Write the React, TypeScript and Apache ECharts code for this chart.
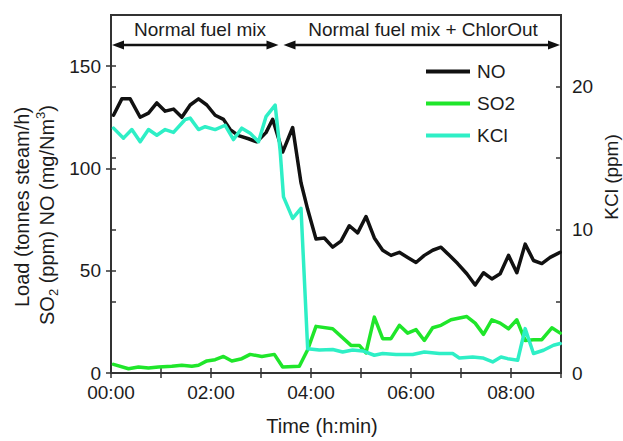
import React, { useEffect, useRef } from "react";
import * as echarts from "echarts";

// ---- data (minutes since 00:00, value) ----
const NO_SERIES: [number, number][] = [
  [3, 126], [13, 134], [23, 134], [35, 125], [45, 127], [55, 132], [65, 128], [75, 129],
  [85, 125], [95, 131], [105, 134], [115, 131], [125, 126], [135, 124], [143, 119],
  [153, 116], [165, 114.5], [175, 113], [186, 117.5], [194, 124], [206, 108], [218, 120],
  [228, 93], [236, 80], [246, 65.5], [256, 66], [266, 61.5], [276, 64.5], [286, 72],
  [296, 68.5], [306, 76.5], [316, 66], [326, 60], [336, 57.5], [346, 59], [356, 56.5],
  [366, 54], [376, 57.5], [386, 60], [396, 61.5], [406, 57.5], [416, 53.5], [427, 48.5],
  [437, 43], [447, 49], [457, 46], [467, 48.5], [477, 57.5], [487, 49], [497, 63],
  [507, 55], [517, 53.5], [527, 56.5], [539, 59],
];

const SO2_SERIES: [number, number][] = [
  [3, 4.2], [21, 2.1], [33, 2.9], [45, 2.4], [57, 2.9], [73, 3.3], [85, 3.8], [97, 3.3],
  [105, 3.8], [115, 5.9], [125, 6.5], [135, 8.1], [145, 5.9], [157, 7], [167, 9.1],
  [181, 8.1], [196, 9.1], [206, 2.9], [226, 3.3], [236, 11.4], [246, 22.8], [266, 21.6],
  [288, 13.5], [298, 13.5], [306, 9.8], [316, 27.3], [326, 16.8], [336, 16.8], [346, 23.3],
  [356, 19.5], [366, 21.2], [376, 15.9], [386, 22.1], [396, 23.3], [408, 26], [427, 27.6],
  [437, 24.4], [447, 18.9], [457, 26], [467, 24.4], [477, 21.6], [487, 26], [497, 15.9],
  [507, 16.3], [517, 16.3], [529, 22.1], [539, 19.5],
];

const KCL_SERIES: [number, number][] = [
  [3, 17.1], [15, 16.4], [25, 17], [35, 16.15], [45, 17], [55, 16.6], [65, 17], [75, 16.8],
  [89, 17.7], [95, 17.8], [105, 17], [113, 17.2], [125, 17], [137, 17.3], [147, 16.3],
  [157, 17.1], [167, 16.75], [177, 16.15], [186, 17.9], [197, 18.7], [203, 15.5],
  [207, 12.3], [218, 10.8], [228, 11.5], [236, 1.7], [250, 1.6], [266, 1.64], [278, 1.47],
  [290, 1.6], [302, 1.54], [316, 1.24], [326, 1.36], [342, 1.29], [362, 1.29], [376, 1.47],
  [394, 1.36], [410, 1.36], [418, 1.05], [434, 1.12], [446, 1.05], [458, 0.77], [468, 1.12],
  [476, 1], [488, 0.89], [497, 3.1], [507, 1.36], [519, 1.59], [531, 1.94], [539, 2.06],
];

const SERIES_NAMES = ["NO", "SO2", "KCl"];
const SERIES_COLORS = ["#111111", "#1fe62a", "#2eefc6"];

const X_MIN = 0;
const X_MAX = 540;
const X_TICK_STEP = 60;
const X_LABEL_STEP = 120;
const LEFT_MAX = 175;
const LEFT_TICKS = [0, 50, 100, 150];
const RIGHT_MAX = 25;
const RIGHT_LABELS = [0, 10, 20];
const RIGHT_TICKS = [0, 5, 10, 15, 20];
const PHASE_BOUNDARY = 204;
const PHASE_LABELS = ["Normal fuel mix", "Normal fuel mix + ChlorOut"];

const FONT = '"Liberation Sans", Arial, Helvetica, sans-serif';
const TEXT_COLOR = "#1c1c1c";
const AXIS_COLOR = "#333333";

const pad = (n: number) => (n < 10 ? "0" + n : String(n));
const fmtTime = (v: number) => pad(Math.floor(v / 60)) + ":" + pad(v % 60);

export default function App() {
  const ref = useRef<HTMLDivElement>(null);

  useEffect(() => {
    if (!ref.current) return;
    const chart = echarts.init(ref.current, undefined, { renderer: "svg" });

    const labelStyle = { fontSize: 19, color: TEXT_COLOR, fontFamily: FONT };
    const tickLine = { color: AXIS_COLOR, width: 1.5 };
    const axisLine = { show: true, lineStyle: { color: AXIS_COLOR, width: 2 } };

    const option: any = {
      animation: false,
      grid: {
        left: 111, right: 62, top: 15, bottom: 68,
        show: true, borderColor: AXIS_COLOR, borderWidth: 2, backgroundColor: "transparent",
      },
      legend: {
        orient: "vertical",
        left: 421,
        top: 57,
        icon: "rect",
        itemWidth: 44,
        itemHeight: 4,
        itemGap: 13,
        data: SERIES_NAMES,
        textStyle: { ...labelStyle, padding: [0, 0, 0, 2] },
      },
      xAxis: [
        {
          type: "value", min: X_MIN, max: X_MAX, interval: X_TICK_STEP,
          axisLine,
          axisTick: { show: true, length: 5, lineStyle: tickLine },
          axisLabel: {
            ...labelStyle, margin: 10,
            formatter: (v: number) => (v % X_LABEL_STEP === 0 ? fmtTime(v) : ""),
          },
          splitLine: { show: false },
        },
        {
          type: "value", min: X_MIN, max: X_MAX, interval: X_TICK_STEP, position: "bottom",
          axisLine: { show: false },
          axisTick: { show: true, inside: true, length: 5, lineStyle: tickLine },
          axisLabel: { show: false },
          splitLine: { show: false },
        },
      ],
      yAxis: [
        {
          type: "value", position: "left", min: 0, max: LEFT_MAX, interval: 50,
          axisLine,
          axisTick: { show: true, length: 5, lineStyle: tickLine, customValues: LEFT_TICKS },
          axisLabel: { ...labelStyle, margin: 10, customValues: LEFT_TICKS },
          splitLine: { show: false },
        },
        {
          type: "value", position: "right", min: 0, max: RIGHT_MAX, interval: 5,
          axisLine,
          axisTick: { show: true, length: 5, lineStyle: tickLine, customValues: RIGHT_TICKS },
          axisLabel: { ...labelStyle, margin: 11, customValues: RIGHT_LABELS },
          splitLine: { show: false },
        },
        {
          type: "value", position: "left", min: 0, max: LEFT_MAX, interval: 50,
          axisLine: { show: false },
          axisTick: { show: true, inside: true, length: 5, lineStyle: tickLine, customValues: LEFT_TICKS },
          axisLabel: { show: false },
          splitLine: { show: false },
        },
        {
          type: "value", position: "right", min: 0, max: RIGHT_MAX, interval: 5,
          axisLine: { show: false },
          axisTick: { show: true, inside: true, length: 5, lineStyle: tickLine, customValues: RIGHT_TICKS },
          axisLabel: { show: false },
          splitLine: { show: false },
        },
      ],
      series: [
        { name: SERIES_NAMES[0], data: NO_SERIES, yAxisIndex: 0, color: SERIES_COLORS[0] },
        { name: SERIES_NAMES[1], data: SO2_SERIES, yAxisIndex: 0, color: SERIES_COLORS[1] },
        { name: SERIES_NAMES[2], data: KCL_SERIES, yAxisIndex: 1, color: SERIES_COLORS[2] },
      ].map((s) => ({
        ...s,
        type: "line",
        xAxisIndex: 0,
        showSymbol: false,
        symbol: "none",
        lineStyle: { width: 3.5, color: s.color, join: "round", cap: "round" },
      })),
    };

    chart.setOption(option);

    const px = (v: number) => chart.convertToPixel({ xAxisIndex: 0 }, v) as number;
    const x0 = px(X_MIN);
    const xb = px(PHASE_BOUNDARY);
    const x1 = px(X_MAX);
    const arrowY = 45;
    const headL = 12;
    const headH = 4.5;
    const arrowStroke = "#111";

    const arrow = (a: number, b: number) => [
      {
        type: "line",
        shape: { x1: a + headL - 2, y1: arrowY, x2: b - headL + 2, y2: arrowY },
        style: { stroke: arrowStroke, lineWidth: 2.5 },
      },
      {
        type: "polygon",
        shape: { points: [[a, arrowY], [a + headL, arrowY - headH], [a + headL, arrowY + headH]] },
        style: { fill: arrowStroke },
      },
      {
        type: "polygon",
        shape: { points: [[b, arrowY], [b - headL, arrowY - headH], [b - headL, arrowY + headH]] },
        style: { fill: arrowStroke },
      },
    ];

    const textBase = { fontFamily: FONT, fill: TEXT_COLOR, align: "center", verticalAlign: "middle" };

    chart.setOption({
      graphic: [
        ...arrow(x0 + 1, xb - 2.5),
        ...arrow(xb + 2.5, x1 - 1),
        {
          type: "text",
          x: (x0 + xb) / 2 + 4, y: 29,
          style: { ...textBase, text: PHASE_LABELS[0], fontSize: 19 },
        },
        {
          type: "text",
          x: (xb + x1) / 2 + 2, y: 29,
          style: { ...textBase, text: PHASE_LABELS[1], fontSize: 19 },
        },
        {
          type: "text",
          x: 322, y: 426,
          style: { ...textBase, text: "Time (h:min)", fontSize: 20 },
        },
        {
          type: "text",
          x: 611, y: 177, rotation: Math.PI / 2,
          style: { ...textBase, text: "KCl (ppm)", fontSize: 19 },
        },
        {
          type: "text",
          x: 22, y: 207, rotation: Math.PI / 2,
          style: { ...textBase, text: "Load (tonnes steam/h)", fontSize: 20 },
        },
        {
          type: "text",
          x: 47, y: 215, rotation: Math.PI / 2,
          style: {
            ...textBase,
            text: "{t|SO}{s|2}{t| (ppm) NO (mg/Nm}{p|3}{t|)}",
            rich: {
              t: { fontSize: 20, fontFamily: FONT, fill: TEXT_COLOR, lineHeight: 26 },
              s: { fontSize: 13, fontFamily: FONT, fill: TEXT_COLOR, lineHeight: 14, verticalAlign: "bottom" },
              p: { fontSize: 13, fontFamily: FONT, fill: TEXT_COLOR, lineHeight: 14, verticalAlign: "top" },
            },
          },
        },
      ],
    });

    return () => chart.dispose();
  }, []);

  return (
    <div
      ref={ref}
      style={{ position: "fixed", left: 0, top: 0, width: 623, height: 441, background: "#fff" }}
    />
  );
}
